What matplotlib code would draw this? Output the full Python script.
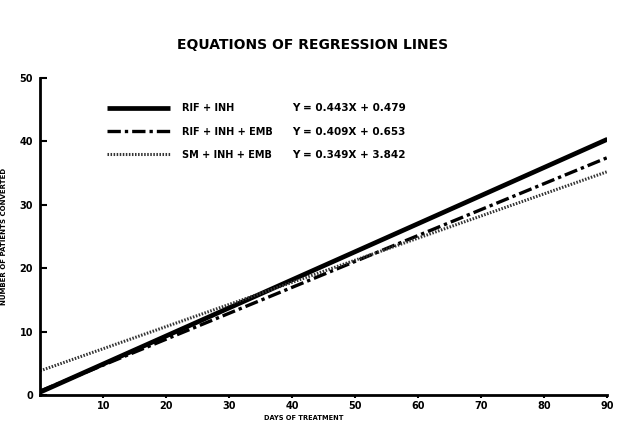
import matplotlib
matplotlib.use('Agg')
import matplotlib.pyplot as plt

# regression lines, end points (days 0 and 90)
days = [0, 90]
rif_inh = [0.48, 40.35]
rif_inh_emb = [0.65, 37.46]
sm_inh_emb = [3.84, 35.25]

series_names = ['RIF + INH', 'RIF + INH + EMB', 'SM + INH + EMB']
equations = ['Y = 0.443X + 0.479', 'Y = 0.409X + 0.653', 'Y = 0.349X + 3.842']

x_ticks = [10, 20, 30, 40, 50, 60, 70, 80, 90]
y_ticks = [0, 10, 20, 30, 40, 50]

plt.rcParams['font.family'] = ['DejaVu Sans']
plt.rcParams['font.weight'] = 'bold'

fig = plt.figure(figsize=(6.18, 4.24), dpi=100)
ax = fig.add_axes([0.065, 0.068, 0.918, 0.748])

ax.plot(days, rif_inh, color='black', lw=3.4, solid_capstyle='butt', label=series_names[0])
ax.plot(days, rif_inh_emb, color='black', lw=2.4, linestyle=(0, (4, 1.2, 1, 1.2)),
        label=series_names[1])
ax.plot(days, sm_inh_emb, color='#333333', lw=2.2, linestyle=(0, (0.5, 0.5)),
        label=series_names[2])

ax.set_xlim(0, 90)
ax.set_ylim(0, 50)
ax.set_xticks(x_ticks)
ax.set_yticks(y_ticks)
ax.tick_params(axis='x', direction='out', length=2, width=1.5, labelsize=7, pad=2)
ax.tick_params(axis='y', direction='in', length=5, width=1.5, labelsize=7, pad=5)
for lab in ax.get_xticklabels() + ax.get_yticklabels():
    lab.set_fontweight('bold')

for side in ['top', 'right']:
    ax.spines[side].set_visible(False)
for side in ['left', 'bottom']:
    ax.spines[side].set_linewidth(2)

fig.text(0.492, 1 - 418 / 424, 'DAYS OF TREATMENT', ha='center', va='center',
         fontsize=4.8, fontweight='bold')
ax.set_ylabel('NUMBER OF PATIENTS CONVERTED', fontsize=5, fontweight='bold', labelpad=9)

fig.text(0.505, 0.893, 'EQUATIONS OF REGRESSION LINES', ha='center', va='center',
         fontsize=10, fontweight='bold')

leg = ax.legend(loc='upper left', bbox_to_anchor=(0.117, 0.92), frameon=False,
                handlelength=6.5, handletextpad=1.3, labelspacing=1.35,
                prop={'size': 7, 'weight': 'bold'}, borderaxespad=0, borderpad=0)

# equations next to the legend entries
fig.canvas.draw()
for txt, eq in zip(leg.get_texts(), equations):
    bb = txt.get_window_extent().transformed(ax.transAxes.inverted())
    ax.text(0.445, (bb.y0 + bb.y1) / 2, eq, transform=ax.transAxes,
            fontsize=7.5, fontweight='bold', va='center', ha='left')

plt.savefig('out.png', dpi=100)
plt.close()
